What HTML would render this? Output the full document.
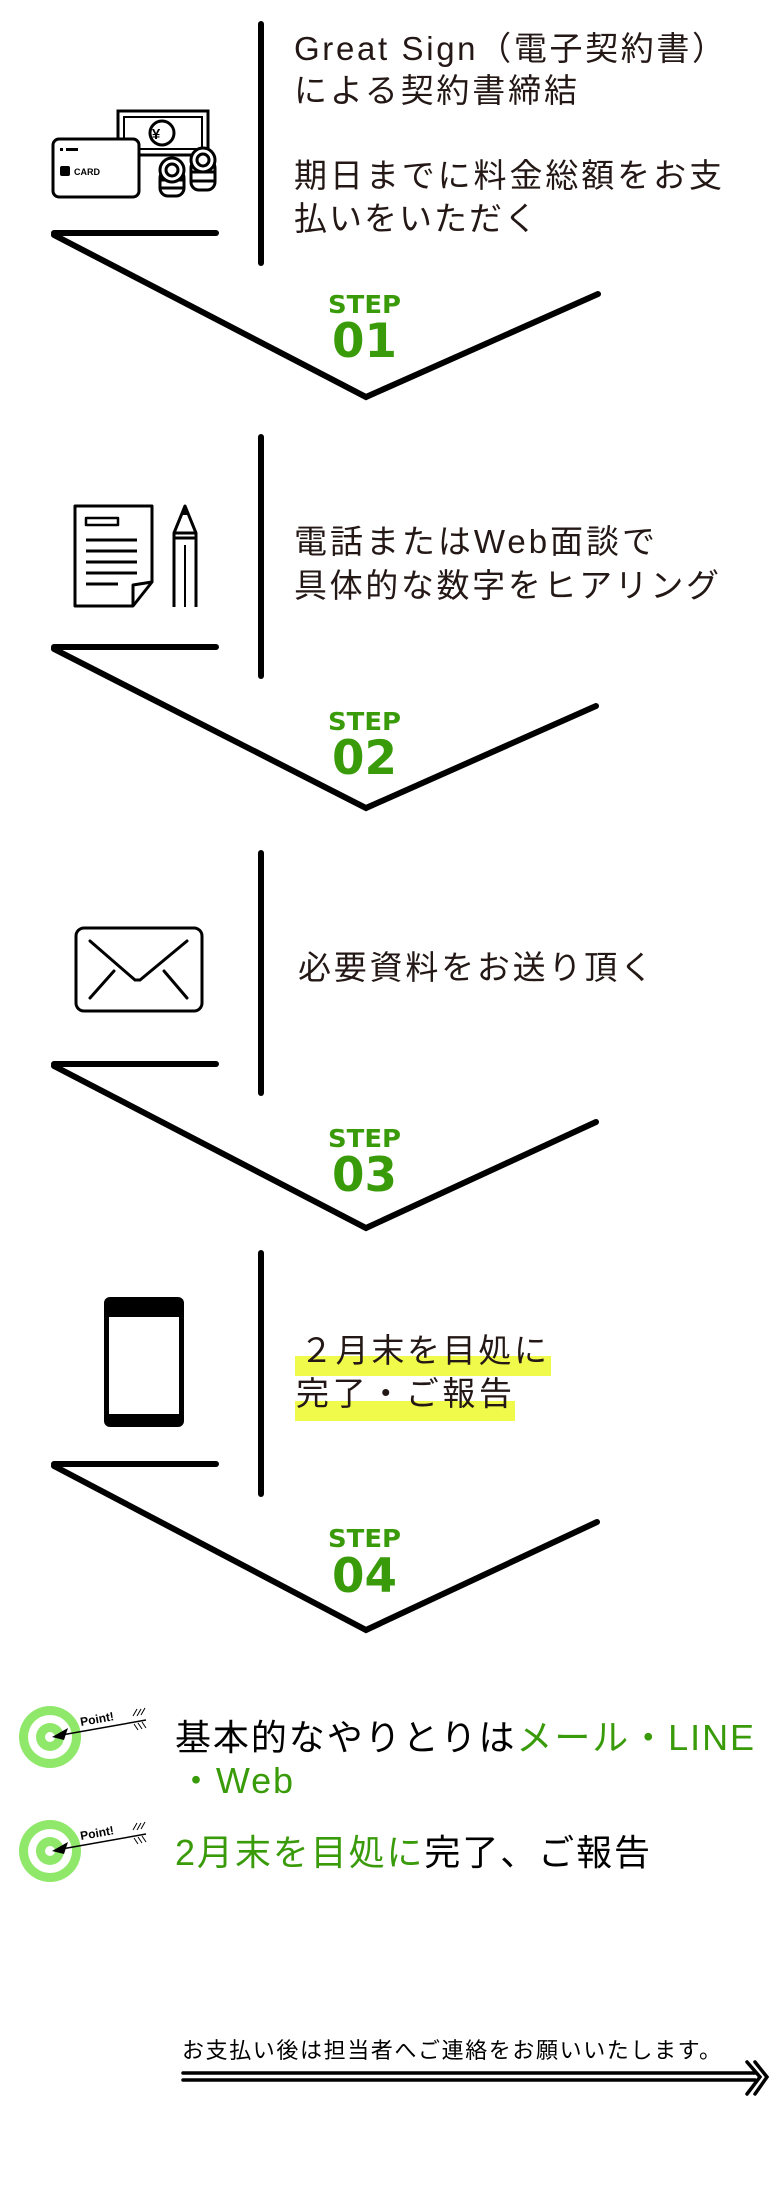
<!DOCTYPE html>
<html><head><meta charset="utf-8"><style>
html,body{margin:0;padding:0;background:#fff;}
svg{display:block;}
text{font-family:"Liberation Sans","Noto Sans CJK JP",sans-serif;}
.t{font-size:33px;fill:#231815;font-weight:normal;}
.st{font-family:"DejaVu Sans Condensed","Liberation Sans Narrow",sans-serif;fill:#3a9b0a;font-weight:bold;}
.g{fill:#3a9b0a;}
</style></head><body>
<svg width="770" height="2200" viewBox="0 0 770 2200" xmlns="http://www.w3.org/2000/svg">
<g fill="none" stroke="#000" stroke-width="6" stroke-linecap="round" stroke-linejoin="miter">
<line x1="261" y1="24" x2="261" y2="263"/>
<line x1="54" y1="233" x2="216" y2="233"/>
<polyline points="54,235 366,397 598,294"/>
<line x1="261" y1="437" x2="261" y2="676"/>
<line x1="54" y1="647" x2="216" y2="647"/>
<polyline points="54,649 366,808 596,706"/>
<line x1="261" y1="853" x2="261" y2="1093"/>
<line x1="54" y1="1064" x2="216" y2="1064"/>
<polyline points="54,1066 366,1228 596,1122"/>
<line x1="261" y1="1253" x2="261" y2="1494"/>
<line x1="54" y1="1464" x2="216" y2="1464"/>
<polyline points="54,1466 366,1630 597,1522"/>
</g>

<text class="st" x="328" y="313" font-size="25" textLength="73" lengthAdjust="spacingAndGlyphs">STEP</text>
<text class="st" x="332" y="357" font-size="47" textLength="65" lengthAdjust="spacingAndGlyphs">01</text>
<text class="st" x="328" y="730" font-size="25" textLength="73" lengthAdjust="spacingAndGlyphs">STEP</text>
<text class="st" x="332" y="774" font-size="47" textLength="65" lengthAdjust="spacingAndGlyphs">02</text>
<text class="st" x="328" y="1147" font-size="25" textLength="73" lengthAdjust="spacingAndGlyphs">STEP</text>
<text class="st" x="332" y="1191" font-size="47" textLength="65" lengthAdjust="spacingAndGlyphs">03</text>
<text class="st" x="328" y="1547" font-size="25" textLength="73" lengthAdjust="spacingAndGlyphs">STEP</text>
<text class="st" x="332" y="1592" font-size="47" textLength="65" lengthAdjust="spacingAndGlyphs">04</text>

<text class="t" x="294" y="60" textLength="431">Great Sign（電子契約書）</text>
<text class="t" x="294" y="102" textLength="283">による契約書締結</text>
<text class="t" x="294" y="187" textLength="428">期日までに料金総額をお支</text>
<text class="t" x="294" y="230" textLength="243">払いをいただく</text>

<text class="t" x="294" y="553" textLength="361">電話またはWeb面談で</text>
<text class="t" x="294" y="597" textLength="425">具体的な数字をヒアリング</text>

<text class="t" x="298" y="979" textLength="355">必要資料をお送り頂く</text>

<rect x="295" y="1356" width="256" height="20" fill="#f0fa4a"/>
<rect x="295" y="1401" width="220" height="20" fill="#f0fa4a"/>
<text class="t" x="300" y="1362" textLength="247">２月末を目処に</text>
<text class="t" x="296" y="1405" textLength="216">完了・ご報告</text>

<g fill="none" stroke="#000" stroke-width="3">
<rect x="118" y="111" width="90" height="44" />
<rect x="124" y="117" width="78" height="32" stroke-width="2"/>
<circle cx="162" cy="133" r="12"/>
<rect x="53" y="139" width="86" height="58" rx="6" fill="#fff"/>
<rect x="160" y="170" width="24" height="26" rx="8" fill="#fff"/>
<line x1="160" y1="180" x2="184" y2="180"/><line x1="160" y1="188" x2="184" y2="188"/>
<circle cx="172" cy="170" r="12" fill="#fff"/>
<circle cx="172" cy="170" r="6"/>
<rect x="191" y="160" width="24" height="30" rx="8" fill="#fff"/>
<line x1="191" y1="172" x2="215" y2="172"/><line x1="191" y1="181" x2="215" y2="181"/>
<circle cx="203" cy="160" r="12" fill="#fff"/>
<circle cx="203" cy="160" r="6"/>
</g>
<text x="156" y="139" font-size="15" font-weight="bold" text-anchor="middle">¥</text>
<rect x="60" y="166" width="10" height="10" rx="2" fill="#000"/>
<text x="74" y="175" font-size="9" font-weight="bold">CARD</text>
<rect x="60" y="148" width="3" height="3" fill="#000"/><rect x="66" y="148" width="12" height="3" fill="#000"/>

<g fill="none" stroke="#000" stroke-width="3" stroke-linejoin="round">
<path d="M75,506 H152 V582 L133,606 H75 Z"/>
<path d="M133,606 V585 L152,582"/>
<rect x="86" y="518" width="32" height="7" stroke-width="2.5"/>
<line x1="86" y1="540" x2="137" y2="540"/>
<line x1="86" y1="551" x2="137" y2="551"/>
<line x1="86" y1="562" x2="137" y2="562"/>
<line x1="86" y1="573" x2="137" y2="573"/>
<line x1="86" y1="584" x2="118" y2="584"/>
<path d="M174,607 V533 L185,506 L196,533 V607"/>
<line x1="174" y1="533" x2="196" y2="533"/>
<line x1="174" y1="538" x2="196" y2="538"/>
<line x1="185" y1="545" x2="185" y2="607" stroke-width="2"/>
</g>
<path d="M181,515 L185,506 L189,515 Z" fill="#000"/>

<g fill="none" stroke="#000" stroke-width="3" stroke-linecap="round">
<rect x="76" y="928" width="126" height="83" rx="8"/>
<polyline points="90,941 135,980 140,980 187,941"/>
<line x1="90" y1="998" x2="114" y2="971"/>
<line x1="187" y1="998" x2="164" y2="971"/>
</g>

<rect x="104" y="1297" width="80" height="130" rx="6" fill="#000"/>
<rect x="109" y="1317" width="70" height="97" fill="#fff"/>

<g>
<circle cx="50" cy="1737" r="31" fill="#8fe86a"/>
<circle cx="50" cy="1737" r="22" fill="#fff"/>
<circle cx="50" cy="1737" r="14" fill="#8fe86a"/>
<circle cx="50" cy="1737" r="5" fill="#fff"/>
<line x1="56" y1="1736" x2="146" y2="1720" stroke="#000" stroke-width="1.5"/>
<path d="M52,1737 L68,1728 L64,1740 Z" fill="#000"/>
<text x="81" y="1726" font-size="12" font-weight="bold" transform="rotate(-10 81 1726)">Point!</text>
<g stroke="#000" stroke-width="1"><line x1="133" y1="1716" x2="137" y2="1709"/><line x1="137" y1="1716" x2="141" y2="1709"/><line x1="141" y1="1715" x2="145" y2="1708"/><line x1="134" y1="1724" x2="138" y2="1730"/><line x1="138" y1="1723" x2="142" y2="1729"/><line x1="142" y1="1722" x2="146" y2="1728"/></g>
</g>
<g transform="translate(0,114)">
<circle cx="50" cy="1737" r="31" fill="#8fe86a"/>
<circle cx="50" cy="1737" r="22" fill="#fff"/>
<circle cx="50" cy="1737" r="14" fill="#8fe86a"/>
<circle cx="50" cy="1737" r="5" fill="#fff"/>
<line x1="56" y1="1736" x2="146" y2="1720" stroke="#000" stroke-width="1.5"/>
<path d="M52,1737 L68,1728 L64,1740 Z" fill="#000"/>
<text x="81" y="1726" font-size="12" font-weight="bold" transform="rotate(-10 81 1726)">Point!</text>
<g stroke="#000" stroke-width="1"><line x1="133" y1="1716" x2="137" y2="1709"/><line x1="137" y1="1716" x2="141" y2="1709"/><line x1="141" y1="1715" x2="145" y2="1708"/><line x1="134" y1="1724" x2="138" y2="1730"/><line x1="138" y1="1723" x2="142" y2="1729"/><line x1="142" y1="1722" x2="146" y2="1728"/></g>
</g>

<text x="175" y="1750" font-size="36" textLength="579">基本的なやりとりは<tspan class="g">メール・LINE</tspan></text>
<text class="g" x="178" y="1793" font-size="36" textLength="115">・Web</text>
<text x="175" y="1865" font-size="36" textLength="475"><tspan class="g">2月末を目処に</tspan>完了、ご報告</text>

<text x="182" y="2058" font-size="22" textLength="539">お支払い後は担当者へご連絡をお願いいたします。</text>
<g fill="none" stroke="#000" stroke-width="3.5" stroke-linecap="round">
<line x1="183" y1="2073" x2="755" y2="2073"/>
<line x1="183" y1="2080" x2="755" y2="2080"/>
<polyline points="747,2062 760,2077 747,2094"/>
<polyline points="755,2062 767,2077 755,2094"/>
</g>
</svg>
</body></html>
